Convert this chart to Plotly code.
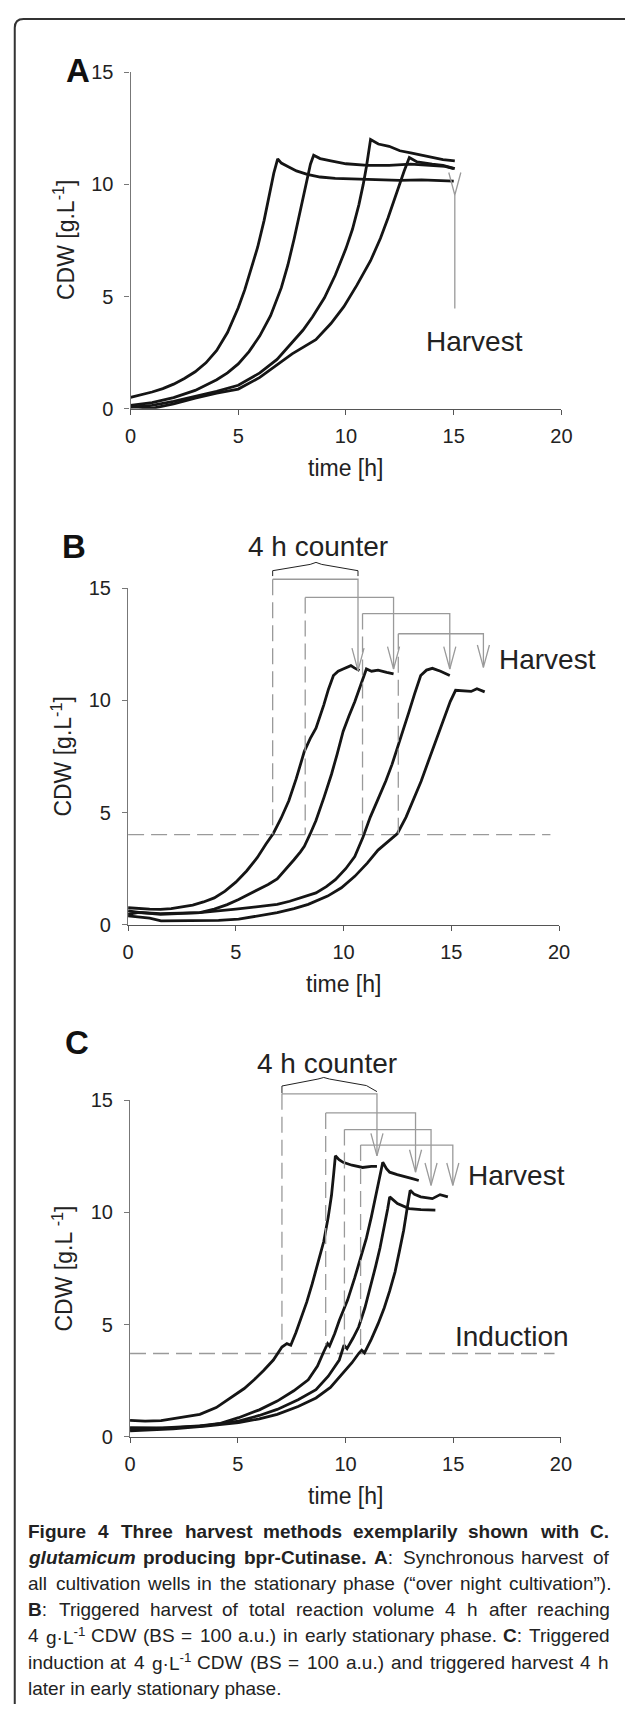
import re
import plotly.graph_objects as go

# ---------------- data ----------------
# Panel A: synchronous harvest (time [h], CDW [g/L])
a1_t = [0, 0.5, 1, 1.5, 2, 2.5, 3, 3.5, 4, 4.5, 5, 5.3, 5.6, 5.9, 6.2, 6.45, 6.65, 6.83, 7.0, 7.3, 7.7, 8.2, 8.8, 9.5, 10.5, 11.5, 12.5, 13.5, 14.3, 15]
a1_v = [0.51, 0.62, 0.75, 0.9, 1.1, 1.35, 1.65, 2.05, 2.6, 3.4, 4.5, 5.3, 6.2, 7.2, 8.4, 9.6, 10.5, 11.14, 10.95, 10.8, 10.6, 10.45, 10.33, 10.27, 10.25, 10.22, 10.18, 10.2, 10.17, 10.15]
a2_t = [0, 1, 2, 3, 4, 4.5, 5, 5.5, 6, 6.5, 7, 7.3, 7.6, 7.85, 8.05, 8.2, 8.35, 8.5, 8.8, 9.3, 10, 11, 12, 13, 14, 14.6, 15]
a2_v = [0.15, 0.28, 0.5, 0.82, 1.3, 1.6, 2.0, 2.55, 3.25, 4.15, 5.4, 6.4, 7.6, 8.7, 9.6, 10.3, 10.9, 11.3, 11.15, 11.05, 10.92, 10.85, 10.85, 10.9, 10.85, 10.8, 10.7]
a3_t = [0, 1, 2, 3, 4, 5, 6, 6.8, 7.5, 8, 8.45, 9, 9.5, 10, 10.3, 10.6, 10.8, 10.95, 11.14, 11.5, 12, 12.5, 13, 13.5, 14, 14.5, 15.05]
a3_v = [0.07, 0.15, 0.33, 0.55, 0.78, 1.05, 1.6, 2.2, 2.95, 3.5, 4.1, 4.95, 5.95, 7.15, 8.0, 9.1, 10.0, 10.8, 12.0, 11.8, 11.7, 11.5, 11.4, 11.3, 11.2, 11.1, 11.05]
a4_t = [0, 0.5, 1, 2, 3, 4, 5, 6, 6.8, 7.5, 8.6, 9.3, 9.9, 10.5, 11.14, 11.6, 11.95, 12.2, 12.4, 12.7, 12.94, 13.3, 14, 14.5, 15.05]
a4_v = [0.1, 0.05, 0.02, 0.22, 0.48, 0.7, 0.88, 1.4, 1.98, 2.45, 3.08, 3.8, 4.55, 5.5, 6.6, 7.6, 8.5, 9.2, 9.8, 10.6, 11.2, 11.0, 10.9, 10.85, 10.7]
harvest_A = 15.05
arrow_A = [4.47, 9.53]   # arrow tail / tip CDW

# Panel B: triggered harvest 4 h after reaching threshold
b1_t = [0, 0.5, 1, 1.5, 2, 2.5, 3, 3.5, 4, 4.5, 5, 5.5, 6, 6.4, 6.74, 7.1, 7.46, 7.8, 8.18, 8.45, 8.72, 9.08, 9.3, 9.53, 9.75, 9.98, 10.34, 10.5, 10.74]
b1_v = [0.76, 0.72, 0.7, 0.69, 0.72, 0.8, 0.88, 1.02, 1.2, 1.5, 1.9, 2.4, 3.0, 3.6, 4.07, 4.75, 5.53, 6.5, 7.73, 8.3, 8.76, 9.79, 10.5, 11.11, 11.3, 11.4, 11.55, 11.45, 11.33]
b2_t = [0, 0.5, 1.5, 2.5, 3.33, 4, 4.6, 5.13, 5.6, 6.1, 6.5, 6.92, 7.3, 7.7, 8.0, 8.18, 8.45, 8.72, 9.1, 9.44, 9.7, 9.98, 10.25, 10.52, 10.8, 11.06, 11.3, 11.6, 12.0, 12.32]
b2_v = [0.62, 0.55, 0.47, 0.5, 0.54, 0.7, 0.9, 1.13, 1.35, 1.6, 1.8, 2.05, 2.45, 2.9, 3.25, 3.5, 4.05, 4.65, 5.7, 6.71, 7.6, 8.62, 9.3, 9.94, 10.7, 11.4, 11.3, 11.35, 11.25, 11.18]
b3_t = [0, 0.5, 1.5, 3.33, 5, 6, 6.92, 7.5, 8, 8.72, 9.2, 9.62, 10.1, 10.52, 10.9, 11.24, 11.6, 11.96, 12.25, 12.5, 12.8, 13.04, 13.3, 13.58, 13.85, 14.12, 14.5, 14.93]
b3_v = [0.47, 0.55, 0.5, 0.54, 0.7, 0.8, 0.91, 1.05, 1.2, 1.42, 1.7, 2.01, 2.5, 3.04, 3.9, 4.8, 5.6, 6.41, 7.15, 7.88, 8.7, 9.5, 10.3, 11.11, 11.35, 11.43, 11.3, 11.11]
b4_t = [0, 0.5, 1, 1.53, 2.5, 3.33, 4.2, 5.13, 6, 6.92, 7.7, 8.36, 9.26, 9.9, 10.52, 11.1, 11.6, 12.1, 12.5, 12.9, 13.22, 13.6, 13.94, 14.3, 14.66, 14.95, 15.2, 15.5, 15.92, 16.19, 16.55]
b4_v = [0.4, 0.35, 0.3, 0.18, 0.18, 0.18, 0.2, 0.25, 0.38, 0.54, 0.72, 0.91, 1.28, 1.65, 2.16, 2.75, 3.33, 3.75, 4.07, 4.8, 5.53, 6.4, 7.3, 8.25, 9.2, 9.95, 10.45, 10.42, 10.4, 10.52, 10.38]
threshold_B = 4.02
trigger_B = [6.71, 8.22, 10.88, 12.54]
harvest_B = [10.67, 12.32, 14.93, 16.49]
bar_B = [15.40, 14.59, 13.87, 12.97]
tip_B = [11.33, 11.40, 11.40, 11.47]
brace_B_t = [6.71, 6.71, 8.45, 8.72, 8.99, 10.67, 10.67]
brace_B_v = [15.54, 15.78, 16.06, 16.15, 16.06, 15.78, 15.54]

# Panel C: triggered induction at threshold and harvest 4 h later
c1_t = [0, 0.7, 1.44, 2.3, 3.24, 4.0, 4.68, 5.3, 5.76, 6.2, 6.65, 7.05, 7.28, 7.46, 7.7, 7.91, 8.2, 8.45, 8.75, 8.99, 9.2, 9.35, 9.45, 9.53, 9.7, 9.89, 10.3, 10.79, 11.2, 11.46]
c1_v = [0.73, 0.7, 0.72, 0.85, 1.0, 1.3, 1.73, 2.15, 2.54, 2.95, 3.42, 4.0, 4.15, 4.08, 4.65, 5.18, 6.0, 6.8, 7.8, 8.7, 9.8, 10.76, 11.7, 12.52, 12.35, 12.23, 12.1, 12.0, 12.05, 12.05]
c2_t = [0, 1.5, 3.24, 4.2, 5.04, 6.0, 6.83, 7.6, 8.27, 8.7, 8.99, 9.17, 9.26, 9.5, 9.71, 10.1, 10.43, 10.7, 10.97, 11.2, 11.42, 11.6, 11.73, 11.9, 12.05, 12.4, 12.77, 13.1, 13.4]
c2_v = [0.41, 0.4, 0.48, 0.6, 0.85, 1.2, 1.59, 2.05, 2.54, 3.15, 3.79, 4.15, 4.04, 4.6, 5.18, 6.1, 7.09, 7.95, 8.85, 9.8, 10.76, 11.6, 12.23, 11.95, 11.79, 11.68, 11.57, 11.5, 11.42]
c3_t = [0, 2, 3.5, 5.04, 6.0, 6.83, 7.8, 8.63, 9.2, 9.71, 9.93, 10.07, 10.35, 10.61, 10.9, 11.15, 11.4, 11.6, 11.8, 11.96, 12.05, 12.25, 12.41, 12.95, 13.5, 14.17]
c3_v = [0.34, 0.4, 0.5, 0.7, 0.95, 1.22, 1.65, 2.1, 2.7, 3.42, 4.08, 3.93, 4.4, 4.89, 5.75, 6.65, 7.6, 8.41, 9.3, 10.17, 10.69, 10.5, 10.39, 10.17, 10.12, 10.1]
c4_t = [0, 2, 3.5, 5.04, 6.0, 6.83, 7.8, 8.63, 9.3, 9.89, 10.3, 10.61, 10.75, 10.88, 11.2, 11.51, 11.8, 12.05, 12.3, 12.5, 12.7, 12.86, 13.0, 13.2, 13.49, 14.03, 14.39, 14.75]
c4_v = [0.26, 0.35, 0.48, 0.63, 0.8, 1.0, 1.35, 1.73, 2.2, 2.83, 3.3, 3.71, 3.86, 3.74, 4.35, 5.03, 5.75, 6.5, 7.35, 8.26, 9.2, 10.17, 10.98, 10.8, 10.69, 10.61, 10.79, 10.69]
threshold_C = 3.71
trigger_C = [7.05, 9.08, 9.95, 10.70]
trigger_C_v = [4.15, 4.08, 3.93, 3.79]
harvest_C = [11.46, 13.25, 13.97, 14.98]
bar_C = [15.28, 14.43, 13.69, 13.00]
tip_C = [12.52, 11.79, 11.20, 11.20]
brace_C_t = [7.05, 7.05, 8.72, 8.99, 9.26, 10.97, 11.46]
brace_C_v = [15.31, 15.63, 15.94, 16.01, 15.94, 15.65, 15.38]

x_ticks = [0, 5, 10, 15, 20]
y_ticks = [0, 5, 10, 15]

caption_lines = [
    "<b>Figure 4 Three harvest methods exemplarily shown with C.</b>",
    "<b><i>glutamicum</i> producing bpr-Cutinase. A</b>: Synchronous harvest of",
    "all cultivation wells in the stationary phase (\u201cover night cultivation\u201d).",
    "<b>B</b>: Triggered harvest of total reaction volume 4 h after reaching",
    "4 g\u00b7L<sup>-1</sup> CDW (BS = 100 a.u.) in early stationary phase. <b>C</b>: Triggered",
    "induction at 4 g\u00b7L<sup>-1</sup> CDW (BS = 100 a.u.) and triggered harvest 4 h",
    "later in early stationary phase.",
]

# ---------------- layout geometry (pixels) ----------------
W, H = 625, 1715
PW, PH = 443, 341          # plot area size (20 h x 15 g/L)
PXH, PXU = PW / 20.0, PH / 15.0
panels = {"A": (128, 403), "B": (125.5, 925.7), "C": (127.5, 1444.3)}
BIGX, BIGY = 22.0, 17.5

FONT = "Liberation Sans, Arial, sans-serif"
CURVE = dict(color="#151515", width=2.8)
GRAY = "#9a9a9a"
DASH = "16px,7px"


def xdom(x0, xmax=20.0):
    return [x0 / W, (x0 + xmax * PXH) / W]


def ydom(y0, ymax=15.0):
    return [1 - y0 / H, 1 - (y0 - ymax * PXU) / H]


fig = go.Figure()


def curve(t, v, xa, ya):
    fig.add_trace(go.Scatter(x=t, y=v, mode="lines", line=CURVE, xaxis=xa, yaxis=ya,
                             hoverinfo="skip", showlegend=False))


def seg_trace(xs, ys, xa, ya, color=GRAY, width=1.3, dash=None):
    fig.add_trace(go.Scatter(x=xs, y=ys, mode="lines",
                             line=dict(color=color, width=width, dash=dash),
                             xaxis=xa, yaxis=ya, hoverinfo="skip", showlegend=False))


HW, HL = 0.28, 1.0   # arrowhead half-width [h], length [g/L]


def arrowheads(xs_tip, ys_tip, xa, ya):
    xs, ys = [], []
    for xt, yt in zip(xs_tip, ys_tip):
        xs += [xt - HW, xt, xt + HW, None]
        ys += [yt + HL, yt, yt + HL, None]
    seg_trace(xs, ys, xa, ya)


def brackets(trig, trig_v, harv, bar, tip, xa, ya):
    sx, sy, dx, dy = [], [], [], []
    for t0, tv, t1, b, tp in zip(trig, trig_v, harv, bar, tip):
        sx += [t0, t1, t1, None]
        sy += [b, b, tp, None]
        dx += [t0, t0, None]
        dy += [b, tv, None]
    seg_trace(sx, sy, xa, ya)
    seg_trace(dx, dy, xa, ya, dash=DASH)
    arrowheads(harv, tip, xa, ya)


# Panel A
for t, v in [(a1_t, a1_v), (a2_t, a2_v), (a3_t, a3_v), (a4_t, a4_v)]:
    curve(t, v, "x", "y")
seg_trace([harvest_A, harvest_A], arrow_A, "x", "y")
arrowheads([harvest_A], [arrow_A[1]], "x", "y")

# Panel B
seg_trace([0, 19.6], [threshold_B, threshold_B], "x3", "y3", dash=DASH)
for t, v in [(b1_t, b1_v), (b2_t, b2_v), (b3_t, b3_v), (b4_t, b4_v)]:
    curve(t, v, "x3", "y3")
brackets(trigger_B, [threshold_B] * 4, harvest_B, bar_B, tip_B, "x4", "y4")
seg_trace(brace_B_t, brace_B_v, "x4", "y4", color="#222", width=1)

# Panel C
seg_trace([0, 19.7], [threshold_C, threshold_C], "x5", "y5", dash=DASH)
for t, v in [(c1_t, c1_v), (c2_t, c2_v), (c3_t, c3_v), (c4_t, c4_v)]:
    curve(t, v, "x5", "y5")
brackets(trigger_C, trigger_C_v, harvest_C, bar_C, tip_C, "x6", "y6")
seg_trace(brace_C_t, brace_C_v, "x6", "y6", color="#222", width=1)


# axes
def vis_axes(x0, y0, xname, yname):
    xa = dict(domain=xdom(x0), range=[0, 20], anchor=yname, tickvals=x_ticks,
              showline=True, linecolor="#555", linewidth=1.2, ticks="outside",
              ticklen=5, tickcolor="#555", showgrid=False, zeroline=False,
              tickfont=dict(family=FONT, size=20, color="#222"), ticklabelstandoff=4,
              fixedrange=True)
    ya = dict(domain=ydom(y0), range=[0, 15], anchor=xname, tickvals=y_ticks,
              showline=True, linecolor="#777", linewidth=1.2, ticks="outside",
              ticklen=5, tickcolor="#777", showgrid=False, zeroline=False,
              tickfont=dict(family=FONT, size=20, color="#222"), ticklabelstandoff=7,
              fixedrange=True)
    return xa, ya


def big_axes(x0, y0, xname, yname):
    xa = dict(domain=xdom(x0, BIGX), range=[0, BIGX], anchor=yname, visible=False, fixedrange=True)
    ya = dict(domain=ydom(y0, BIGY), range=[0, BIGY], anchor=xname, visible=False, fixedrange=True)
    return xa, ya


lay = {}
lay["xaxis"], lay["yaxis"] = vis_axes(*panels["A"], "x", "y")
lay["xaxis3"], lay["yaxis3"] = vis_axes(*panels["B"], "x3", "y3")
lay["xaxis4"], lay["yaxis4"] = big_axes(*panels["B"], "x4", "y4")
lay["xaxis5"], lay["yaxis5"] = vis_axes(*panels["C"], "x5", "y5")
lay["xaxis6"], lay["yaxis6"] = big_axes(*panels["C"], "x6", "y6")

ann = []
big = dict(family=FONT, size=28, color="#222")
ann.append(dict(x=15.95, y=3.0, xref="x", yref="y", text="Harvest", showarrow=False, font=big))
ann.append(dict(x=8.81, y=16.84, xref="x4", yref="y4", text="4 h counter", showarrow=False, font=big))
ann.append(dict(x=19.46, y=11.84, xref="x4", yref="y4", text="Harvest", showarrow=False, font=big))
ann.append(dict(x=9.14, y=16.63, xref="x6", yref="y6", text="4 h counter", showarrow=False, font=big))
ann.append(dict(x=17.95, y=11.64, xref="x6", yref="y6", text="Harvest", showarrow=False, font=big))
ann.append(dict(x=17.72, y=4.45, xref="x6", yref="y6", text="Induction", showarrow=False, font=big))

letters = [("A", 60, 40), ("B", 55, 522), ("C", 59, 1045)]
for txt, px, py in letters:
    ann.append(dict(x=px / W, y=1 - py / H, xref="paper", yref="paper", text="<b>%s</b>" % txt,
                    showarrow=False, font=dict(family=FONT, size=33, color="#111")))

ytitles = {"y": ("x", "CDW [g.L<sup>-1</sup>]"), "y3": ("x3", "CDW [g.L<sup>-1</sup>]"),
           "y5": ("x5", "CDW [g.L <sup>-1</sup>]")}
for yname, (xname, txt) in ytitles.items():
    ann.append(dict(x=0, y=0.5, xref=xname + " domain", yref=yname + " domain", text=txt,
                    textangle=-90, showarrow=False, xshift=-67, xanchor="center",
                    font=dict(family=FONT, size=23, color="#222")))
    ann.append(dict(x=0.5, y=0, xref=xname + " domain", yref=yname + " domain", text="time [h]",
                    showarrow=False, yshift=-59, yanchor="middle",
                    font=dict(family=FONT, size=23, color="#222")))

# ---------------- justified caption ----------------
CAP_SIZE = 19
CAP_L, CAP_R = 22, 618
REG = dict(zip("abcdefghijklmnopqrstuvwxyz",
               [556, 556, 500, 556, 556, 278, 556, 556, 222, 222, 500, 222, 833, 556, 556, 556, 556, 333, 500, 278, 556, 500, 722, 500, 500, 500]))
REG.update(dict(zip("ABCDEFGHIJKLMNOPQRSTUVWXYZ",
                    [667, 667, 722, 722, 667, 611, 778, 722, 278, 500, 667, 556, 833, 722, 778, 667, 778, 722, 667, 611, 722, 667, 944, 667, 667, 611])))
BOLD = dict(zip("abcdefghijklmnopqrstuvwxyz",
                [556, 611, 556, 611, 556, 333, 611, 611, 278, 278, 556, 278, 889, 611, 611, 611, 611, 389, 556, 333, 611, 556, 778, 556, 556, 500]))
BOLD.update(dict(zip("ABCDEFGHIJKLMNOPQRSTUVWXYZ",
                     [722, 722, 722, 722, 667, 611, 778, 722, 278, 556, 722, 611, 833, 722, 778, 667, 778, 722, 667, 611, 722, 667, 944, 667, 667, 611])))
for d, extra in ((REG, {":": 278, "-": 333}), (BOLD, {":": 333, "-": 333})):
    d.update({c: 556 for c in "0123456789"})
    d.update({" ": 278, ".": 278, ",": 278, "(": 333, ")": 333, "=": 584,
              "\u201c": 333, "\u201d": 333, "\u00b7": 278})
    d.update(extra)


def split_words(markup):
    words, cur, state = [], "", []
    for tok in re.split(r"(<[^>]+>)", markup):
        if tok.startswith("<"):
            cur += tok
            if tok.startswith("</"):
                state.pop()
            else:
                state.append(tok)
        else:
            parts = tok.split(" ")
            for k, p in enumerate(parts):
                if k > 0:
                    words.append(cur + "".join("</" + t[1:] for t in reversed(state)))
                    cur = "".join(state)
                cur += p
    words.append(cur)
    return [w for w in words if re.sub(r"<[^>]+>", "", w)]


def text_width(markup):
    bold, sup, w = False, False, 0.0
    for tok in re.split(r"(<[^>]+>)", markup):
        if tok.startswith("<"):
            if tok == "<b>":
                bold = True
            elif tok == "</b>":
                bold = False
            elif tok == "<sup>":
                sup = True
            elif tok == "</sup>":
                sup = False
            continue
        table = BOLD if bold else REG
        for ch in tok:
            w += table.get(ch, 556) * (0.7 if sup else 1.0)
    return w * CAP_SIZE / 1000.0


cap_y = [1540, 1566.5, 1593, 1619.5, 1646, 1672.5, 1699]
cap_font = dict(family=FONT, size=CAP_SIZE, color="#222")
for li, (line, py) in enumerate(zip(caption_lines, cap_y)):
    if li == len(caption_lines) - 1:
        # last line of a justified paragraph keeps natural spacing
        ann.append(dict(x=(CAP_L - 1) / W, y=1 - py / H, xref="paper", yref="paper", text=line,
                        showarrow=False, xanchor="left", yanchor="middle", font=cap_font))
        continue
    words = split_words(line)
    widths = [text_width(w) for w in words]
    gap = (CAP_R - CAP_L - sum(widths)) / (len(words) - 1)
    x = CAP_L
    for wd, ww in zip(words, widths):
        ann.append(dict(x=(x - 1) / W, y=1 - py / H, xref="paper", yref="paper", text=wd,
                        showarrow=False, xanchor="left", yanchor="middle", font=cap_font))
        x += ww + gap

frame = dict(type="path", xref="paper", yref="paper",
             path="M %f,%f L %f,%f Q %f,%f %f,%f L %f,%f" % (
                 9 / W, 0.0, 9 / W, 1 - 17 / H, 9 / W, 1 - 8 / H, 18 / W, 1 - 8 / H, 1.02, 1 - 8 / H),
             line=dict(color="#333", width=2))

fig.update_layout(width=W, height=H, margin=dict(l=0, r=0, t=0, b=0),
                  paper_bgcolor="white", plot_bgcolor="rgba(0,0,0,0)",
                  showlegend=False, annotations=ann, shapes=[frame], **lay)

fig.write_html("out.html", config={"displayModeBar": False},
               post_script="document.body.style.margin='0';document.body.style.overflow='hidden';")
